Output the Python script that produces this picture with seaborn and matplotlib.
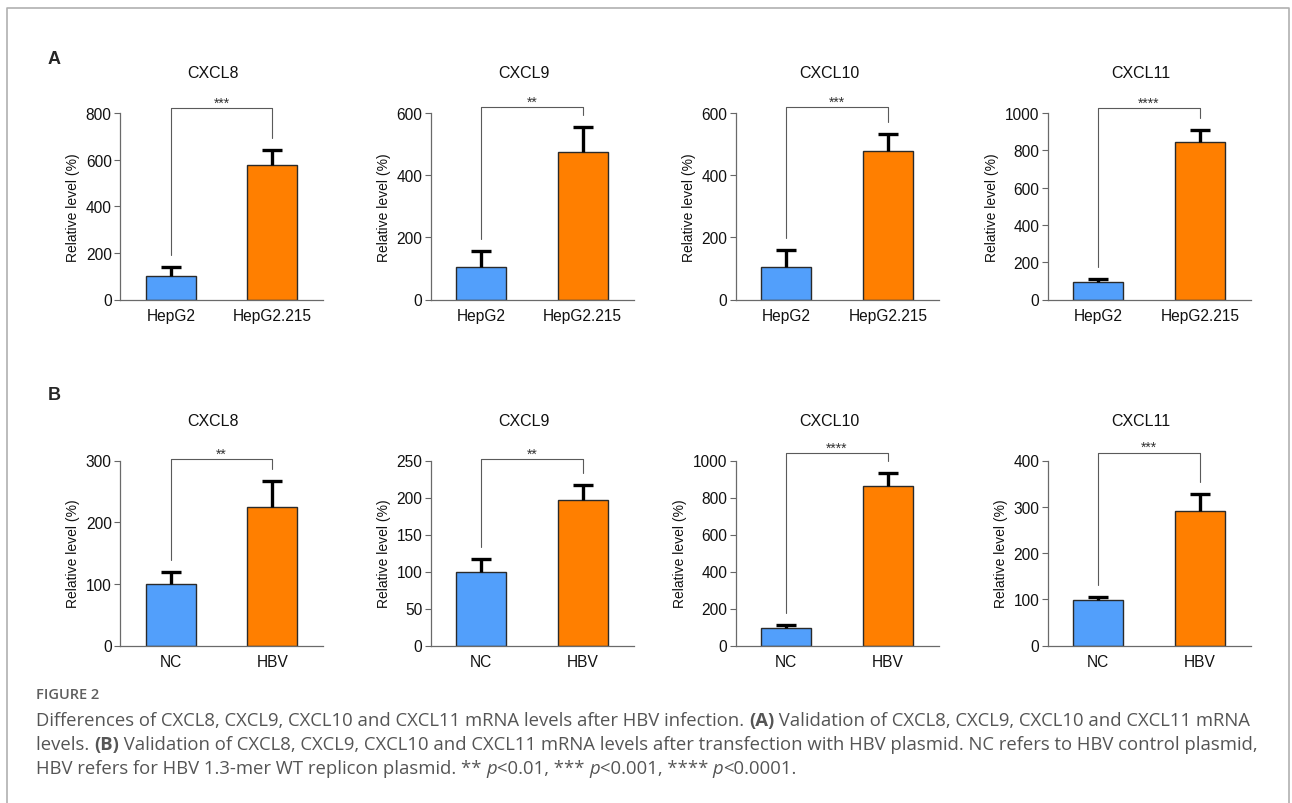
import matplotlib
matplotlib.use("Agg")
import matplotlib.pyplot as plt
from matplotlib.lines import Line2D
import numpy as np
import seaborn as sns

# ---- data ----
genes = ["CXCL8", "CXCL9", "CXCL10", "CXCL11"]

# panel A: HepG2 vs HepG2.215
groups_a = ["HepG2", "HepG2.215"]
mean_a = [[100, 576], [103, 475], [106, 477], [96, 846]]
sd_a = [[39, 65], [54, 80], [53, 55], [13, 61]]
stars_a = ["***", "**", "***", "****"]
ymax_a = [800, 600, 600, 1000]
ystep_a = [200, 200, 200, 200]

# panel B: NC vs HBV plasmid
groups_b = ["NC", "HBV"]
mean_b = [[100, 225], [100, 197], [97, 860], [99, 290]]
sd_b = [[19, 41], [17, 20], [13, 74], [6, 38]]
stars_b = ["**", "**", "****", "***"]
ymax_b = [300, 250, 1000, 400]
ystep_b = [100, 50, 200, 100]

BLUE = "#529FFB"
ORANGE = "#FF7F00"
W, H = 1292, 804

sns.set_style("ticks")
plt.rcParams["font.family"] = ["Liberation Sans", "DejaVu Sans"]


def draw_panel(ax, groups, means, sds, stars, ymax, ystep, gene, bfrac):
    sns.barplot(x=groups, y=means, hue=groups, palette=[BLUE, ORANGE],
                saturation=1, width=0.49, edgecolor="#2a2a2a", linewidth=1.0,
                errorbar=None, legend=False, ax=ax)
    # upper-only SD bars (hide the cap sitting on the bar top)
    _, caps, _ = ax.errorbar([0, 1], means, yerr=[[0, 0], sds], fmt="none",
                             ecolor="black", elinewidth=2.4, capsize=7,
                             capthick=2.4, zorder=3)
    caps[0].set_visible(False)

    ax.set_xlim(-0.5, 1.5)
    ax.set_ylim(0, ymax)
    ax.set_yticks(np.arange(0, ymax + 1, ystep))
    ax.set_xlabel("")
    ax.set_ylabel("Relative level (%)", fontsize=10, color="#111")
    ax.tick_params(axis="y", length=4, width=0.8, color="#666", labelsize=11.2,
                   pad=2, labelcolor="#111")
    ax.tick_params(axis="x", length=0, labelsize=11.2, pad=6, labelcolor="#111")
    sns.despine(ax=ax)
    for side in ["left", "bottom"]:
        ax.spines[side].set_color("#6a6a6a")
        ax.spines[side].set_linewidth(0.9)

    # significance bracket
    gap = 0.065 * ymax
    top = ymax * bfrac
    ax.plot([0, 0, 1, 1],
            [means[0] + sds[0] + gap, top, top, means[1] + sds[1] + gap],
            color="#5a5a5a", lw=0.8, clip_on=False)
    ax.annotate(stars, (0.5, top), xytext=(0, 1), textcoords="offset points",
                ha="center", va="baseline", fontsize=10, color="#333",
                annotation_clip=False)

    ax.text(0.46, 1.215, gene, transform=ax.transAxes, ha="center",
            va="center", fontsize=11.5, color="#111")


fig = plt.figure(figsize=(W / 100, H / 100), dpi=100)

lefts = [120, 430.5, 735.5, 1047.5]
ax_w = 203
rows = [
    (114, 300.5, groups_a, mean_a, sd_a, stars_a, ymax_a, ystep_a,
     [1.026, 1.03, 1.03, 1.028]),
    (461.5, 646.5, groups_b, mean_b, sd_b, stars_b, ymax_b, ystep_b,
     [1.008, 1.008, 1.042, 1.043]),
]
for (ytop, ybot, grp, mm, ss, st, ym, ys, bf) in rows:
    for i, gene in enumerate(genes):
        ax = fig.add_axes([lefts[i] / W, 1 - ybot / H, ax_w / W, (ybot - ytop) / H])
        draw_panel(ax, grp, mm[i], ss[i], st[i], ym[i], ys[i], gene, bf[i])

fig.text(54 / W, 1 - 59 / H, "A", fontsize=13, fontweight="bold",
         ha="center", va="center")
fig.text(54 / W, 1 - 396 / H, "B", fontsize=13, fontweight="bold",
         ha="center", va="center")

# frame around the figure (open at the bottom)
fig.add_artist(Line2D([6.5 / W, 6.5 / W, 1289 / W, 1289 / W],
                      [0, 1 - 9 / H, 1 - 9 / H, 0],
                      transform=fig.transFigure, color="#b0b0b0", lw=1.2))

# ---- caption ----
cap_font = ["Open Sans", "DejaVu Sans"]
cap_color = "#555555"
cap_x = 36
fig.text(cap_x / W, 1 - 695 / H, "FIGURE 2", fontsize=10.5, color="#5f5f5f",
         family=cap_font, fontweight="semibold", va="center")

lines = [
    [("Differences of CXCL8, CXCL9, CXCL10 and CXCL11 mRNA levels after HBV infection. ", "normal", "normal"),
     ("(A)", "bold", "normal"),
     (" Validation of CXCL8, CXCL9, CXCL10 and CXCL11 mRNA", "normal", "normal")],
    [("levels. ", "normal", "normal"),
     ("(B)", "bold", "normal"),
     (" Validation of CXCL8, CXCL9, CXCL10 and CXCL11 mRNA levels after transfection with HBV plasmid. NC refers to HBV control plasmid,", "normal", "normal")],
    [("HBV refers for HBV 1.3-mer WT replicon plasmid. ** ", "normal", "normal"),
     ("p", "normal", "italic"), ("<0.01, *** ", "normal", "normal"),
     ("p", "normal", "italic"), ("<0.001, **** ", "normal", "normal"),
     ("p", "normal", "italic"), ("<0.0001.", "normal", "normal")],
]
renderer = fig.canvas.get_renderer()
for k, runs in enumerate(lines):
    x = cap_x / W
    y = 1 - (721 + 24 * k) / H
    for txt, weight, style in runs:
        t = fig.text(x, y, txt, fontsize=13.3, color=cap_color, family=cap_font,
                     fontweight=weight, fontstyle=style, va="center")
        x += t.get_window_extent(renderer).width / W

fig.savefig("out.png", dpi=100)
